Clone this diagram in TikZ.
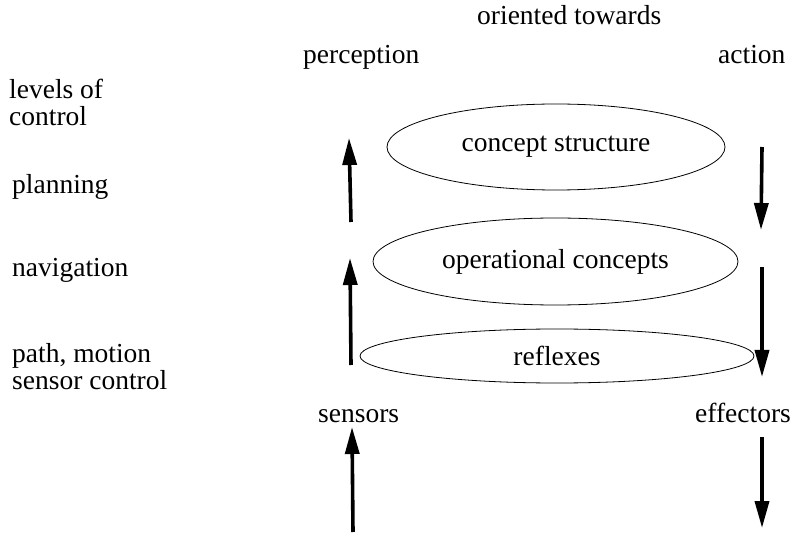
\documentclass[tikz,border=0pt]{standalone}
\usepackage{fontspec}
\setmainfont{Liberation Serif}
\usetikzlibrary{shapes.geometric,arrows.meta}
\tikzset{
  lbl/.style={inner sep=0pt,anchor=base west,font=\fontsize{27.5}{27}\selectfont},
  lbltwo/.style={inner sep=0pt,anchor=base west,align=left,font=\fontsize{27.5}{27}\selectfont},
  level/.style={draw,ellipse,line width=0.8pt,inner sep=0pt,font=\fontsize{27.5}{27}\selectfont},
  flow/.style={line width=3.6pt,-{Triangle[length=27pt,width=14pt]}}
}
\begin{document}
\begin{tikzpicture}[x=1pt,y=-1pt]
\useasboundingbox (0,0) rectangle (793,537);
% headings
\node[lbl] (oriented) at (477,25) {oriented towards};
\node[lbl] (perception) at (303,64) {perception};
\node[lbl] (action) at (718,64) {action};
% left labels
\node[lbltwo] (levels) at (9,126) {levels of\\control};
\node[lbl] (planning) at (12,194) {planning};
\node[lbl] (navigation) at (12,277) {navigation};
\node[lbltwo] (path) at (12,389) {path, motion\\sensor control};
% bottom labels
\node[lbl] (sensors) at (318,422) {sensors};
\node[lbl] (effectors) at (695,422) {effectors};
% ellipses
\node[level,minimum width=338pt,minimum height=86pt] (concept) at (556,147) {concept structure};
\node[level,minimum width=365pt,minimum height=87pt] (operational) at (555.5,261.5) {operational concepts};
\node[level,minimum width=394pt,minimum height=54pt] (reflexes) at (557,356) {reflexes};
% arrow endpoints
\coordinate (l1a) at (351,222); \coordinate (l1b) at (349,138);
\coordinate (l2a) at (351,365); \coordinate (l2b) at (350,258);
\coordinate (l3a) at (353,532); \coordinate (l3b) at (352,427);
\coordinate (r1a) at (762,147); \coordinate (r1b) at (761,230);
\coordinate (r2a) at (762,267); \coordinate (r2b) at (762,377);
\coordinate (r3a) at (762,437); \coordinate (r3b) at (762,528);
\draw[flow] (l1a) -- (l1b);
\draw[flow] (l2a) -- (l2b);
\draw[flow] (l3a) -- (l3b);
\draw[flow] (r1a) -- (r1b);
\draw[flow] (r2a) -- (r2b);
\draw[flow] (r3a) -- (r3b);
\end{tikzpicture}
\end{document}
